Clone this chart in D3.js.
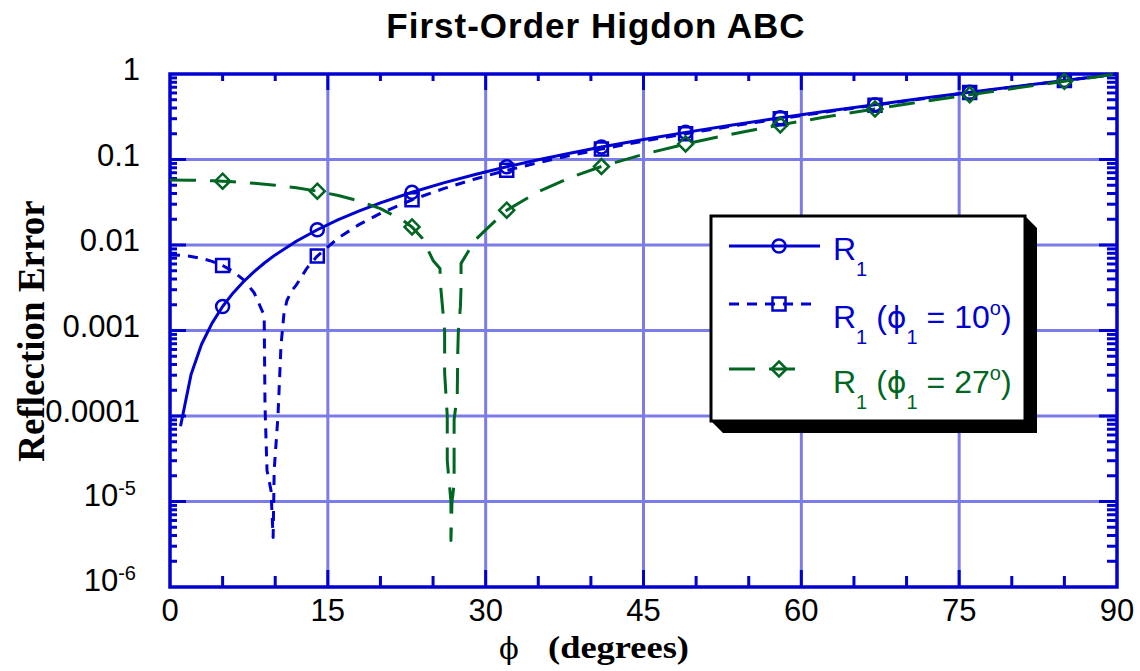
<!DOCTYPE html>
<html><head><meta charset="utf-8">
<script src="https://cdn.jsdelivr.net/npm/d3@7"></script>
<style>html,body{margin:0;padding:0;background:#fff;} svg{display:block;} text{white-space:pre;}</style>
</head><body>
<svg id="chart" width="1140" height="671"></svg>
<script>
// ---------- data ----------
const xTicks = [0, 15, 30, 45, 60, 75, 90];
const xMinorTicks = [5, 10, 20, 25, 35, 40, 50, 55, 65, 70, 80, 85];
const yTicks = [1, 0.1, 0.01, 0.001, 0.0001, 1e-5, 1e-6];
const yTickBase = ["1", "0.1", "0.01", "0.001", "0.0001", "10", "10"];
const yTickExp  = ["", "", "", "", "", "-5", "-6"];
const markerPhi = [5, 14, 23, 32, 41, 49, 58, 67, 76, 85];

// R1 (phi1 = 0)
const phiR1 = [1,2,3,4,5,6,7,8,9,10,12,14,16,18,20,23,26,29,32,35,38,41,45,49,53,58,62,67,71,76,80,85,89,90];
const valR1 = [7.6e-5,3.05e-4,6.9e-4,1.22e-3,1.91e-3,2.75e-3,3.74e-3,4.89e-3,6.2e-3,7.66e-3,0.01105,0.01508,0.01975,0.02508,0.03109,0.04139,0.0533,0.06688,0.08222,0.09941,0.11856,0.13979,0.17157,0.20769,0.24858,0.30726,0.36104,0.4381,0.50879,0.61041,0.70409,0.83966,0.9657,1];

// R1 (phi1 = 10 deg)
const phiR10 = [0,1,2,3,4,5,6,7,8,8.95,9.03,9.22,9.6,9.8,9.85,9.9,10.26,10.55,10.83,11.12,11.6,12,13,14,16,18,20,23,26,29,32,35,38,41,45,49,53,58,62,67,71,76,80,85,90];
const valR10 = [0.00765,0.00758,0.00735,0.00697,0.00644,0.00575,0.00491,0.00391,0.00276,0.0015,1.3e-4,2.3e-5,1.35e-5,3.8e-6,9e-6,2.3e-5,1.0e-4,6.7e-4,1.58e-3,2.26e-3,2.95e-3,3.39e-3,5.33e-3,7.42e-3,0.0121,0.01743,0.02344,0.03375,0.04566,0.05926,0.07462,0.09183,0.1110,0.13228,0.16413,0.20035,0.24139,0.30031,0.35436,0.43189,0.5031,0.60558,0.70021,0.83739,1];

// R1 (phi1 = 27 deg)
const phiR27 = [0,2,4,5,6,8,10,12,14,16,18,20,22,23,24,25,25.66,25.7,26.1,26.1,26.35,26.35,26.7,26.7,26.8,27.0,27.0,27.3,27.35,27.4,27.6,27.66,27.66,29,30,32,35,38,41,45,49,53,58,62,67,71,76,80,85,90];
const valR27 = [0.05764,0.05733,0.05642,0.05574,0.0549,0.05276,0.05001,0.04662,0.0426,0.03793,0.0326,0.02659,0.0199,0.01628,0.0119,0.0066,0.0053,0.0035,0.001,3.2e-4,1e-4,3e-5,1e-5,3.5e-6,1e-5,1.6e-5,9e-5,1.8e-4,5.6e-4,9.5e-4,1.9e-3,3.2e-3,6.1e-3,0.0114,0.015,0.0255,0.04202,0.06134,0.08282,0.1151,0.15187,0.19372,0.25412,0.30985,0.39031,0.46478,0.57293,0.67379,0.8218,1];

const seriesNames = ["R1", "R1 (phi1 = 10)", "R1 (phi1 = 27)"];

// ---------- layout / style ----------
const BLUE = "#0000d0", GREEN = "#006622", GRID = "#7c7ce8";
const L = 170, R = 1117, T = 74, B = 587;
const svg = d3.select("#chart");
const x = d3.scaleLinear().domain([0, 90]).range([L, R]);
const y = d3.scaleLog().domain([1e-6, 1]).range([B, T]);

// grid
const gGrid = svg.append("g");
gGrid.selectAll("line.v").data(xTicks.filter(d => d > 0 && d < 90)).join("line")
  .attr("x1", d => x(d)).attr("x2", d => x(d)).attr("y1", T).attr("y2", B)
  .attr("stroke", GRID).attr("stroke-width", 3);
gGrid.selectAll("line.h").data(yTicks.filter(d => d > 1e-6 && d < 1)).join("line")
  .attr("y1", d => y(d)).attr("y2", d => y(d)).attr("x1", L).attr("x2", R)
  .attr("stroke", GRID).attr("stroke-width", 3);

// ticks
const gT = svg.append("g").attr("stroke", BLUE).attr("stroke-width", 3);
xTicks.filter(d => d > 0 && d < 90).forEach(d => {
  gT.append("line").attr("x1", x(d)).attr("x2", x(d)).attr("y1", B).attr("y2", B - 17);
  gT.append("line").attr("x1", x(d)).attr("x2", x(d)).attr("y1", T).attr("y2", T + 16);
});
xMinorTicks.forEach(d => {
  gT.append("line").attr("x1", x(d)).attr("x2", x(d)).attr("y1", B).attr("y2", B - 11);
  gT.append("line").attr("x1", x(d)).attr("x2", x(d)).attr("y1", T).attr("y2", T + 7);
});
const yMinor = [];
for (let e = -6; e < 0; e++) for (let m = 2; m <= 9; m++) yMinor.push(m * Math.pow(10, e));
yTicks.filter(d => d > 1e-6 && d < 1).forEach(d => {
  gT.append("line").attr("y1", y(d)).attr("y2", y(d)).attr("x1", L).attr("x2", L + 16);
  gT.append("line").attr("y1", y(d)).attr("y2", y(d)).attr("x1", R).attr("x2", R - 18);
});
yMinor.forEach(d => {
  gT.append("line").attr("y1", y(d)).attr("y2", y(d)).attr("x1", L).attr("x2", L + 7);
  gT.append("line").attr("y1", y(d)).attr("y2", y(d)).attr("x1", R).attr("x2", R - 10);
});

// frame
svg.append("rect").attr("x", L).attr("y", T).attr("width", R - L).attr("height", B - T)
  .attr("fill", "none").attr("stroke", BLUE).attr("stroke-width", 3.5);

// tick labels
const fontSans = "'Liberation Sans', Arial, sans-serif";
svg.append("g").selectAll("text").data(xTicks).join("text")
  .attr("x", d => x(d)).attr("y", 621).attr("text-anchor", "middle")
  .attr("font-family", fontSans).attr("font-size", 31).attr("fill", "#000")
  .text(d => d);
yTicks.forEach((d, i) => {
  const t = svg.append("text").attr("text-anchor", "end")
    .attr("font-family", fontSans).attr("font-size", 31).attr("fill", "#000");
  if (yTickExp[i]) {
    t.attr("x", 136).attr("y", y(d) + 4);
    t.append("tspan").text(yTickBase[i]);
    t.append("tspan").attr("font-size", 20).attr("dy", -11).text(yTickExp[i]);
  } else {
    t.attr("x", 140).attr("y", y(d) + 6).text(yTickBase[i]);
  }
});

// series
const clip = svg.append("clipPath").attr("id", "pclip").append("rect")
  .attr("x", L - 2).attr("y", T - 2).attr("width", R - L + 4).attr("height", B - T + 4);
const line = d3.line().x(d => x(d[0])).y(d => y(d[1]));
const series = [
  { phi: phiR1, val: valR1, color: BLUE, dash: null, marker: "circle" },
  { phi: phiR10, val: valR10, color: BLUE, dash: "10,8", marker: "square" },
  { phi: phiR27, val: valR27, color: GREEN, dash: "26,14", marker: "diamond" }
];
function markerPath(kind) {
  if (kind === "circle") return d3.symbol().type(d3.symbolCircle).size(Math.PI * 6.5 * 6.5)();
  if (kind === "square") return "M-6.5,-6.5H6.5V6.5H-6.5Z";
  return "M0,-7.5L7.5,0L0,7.5L-7.5,0Z";
}
const gS = svg.append("g").attr("clip-path", "url(#pclip)");
series.forEach(s => {
  const pts = s.phi.map((p, i) => [p, s.val[i]]);
  gS.append("path").datum(pts).attr("d", line).attr("fill", "none")
    .attr("stroke", s.color).attr("stroke-width", 3)
    .attr("stroke-dasharray", s.dash).attr("stroke-linejoin", "round");
});
series.forEach(s => {
  const mk = markerPhi.map(p => [p, s.val[s.phi.indexOf(p)]]);
  svg.append("g").selectAll("path").data(mk).join("path")
    .attr("transform", d => `translate(${x(d[0])},${y(d[1])})`)
    .attr("d", markerPath(s.marker)).attr("fill", "none")
    .attr("stroke", s.color).attr("stroke-width", 2.5);
});

// title & axis labels
svg.append("text").attr("x", 596).attr("y", 38).attr("text-anchor", "middle")
  .attr("font-family", fontSans).attr("font-weight", "bold").attr("font-size", 35)
  .attr("letter-spacing", 1).text("First-Order Higdon ABC");
svg.append("text").attr("transform", "translate(44,331) rotate(-90)").attr("text-anchor", "middle")
  .attr("font-family", "'Liberation Serif', 'Times New Roman', serif").attr("font-weight", "bold")
  .attr("font-size", 37).text("Reflection Error");
svg.append("text").attr("x", 509).attr("y", 659).attr("text-anchor", "middle")
  .attr("font-family", "'DejaVu Serif', serif").attr("font-size", 29).text("\u03D5");
svg.append("text").attr("x", 548).attr("y", 658)
  .attr("font-family", "'Liberation Serif', 'Times New Roman', serif").attr("font-weight", "bold")
  .attr("font-size", 31).attr("textLength", 141).attr("lengthAdjust", "spacingAndGlyphs")
  .text("(degrees)");

// legend
const lg = svg.append("g");
const LX0 = 711, LY0 = 216, LX1 = 1025, LY1 = 421, SH = 12;
lg.append("path").attr("d", `M${LX1},${LY0}L${LX1 + SH},${LY0 + SH}L${LX1 + SH},${LY1 + SH}L${LX0 + SH},${LY1 + SH}L${LX0},${LY1}Z`)
  .attr("fill", "#000");
lg.append("rect").attr("x", LX0).attr("y", LY0).attr("width", LX1 - LX0).attr("height", LY1 - LY0)
  .attr("fill", "#fff").attr("stroke", "#000").attr("stroke-width", 3);
const legendRows = [
  { ly: 246, by: 260, s: series[0], parts: [["R", "n"], ["1", "sub"]], x1: 729, x2: 820 },
  { ly: 304, by: 328, s: series[1], parts: [["R", "n"], ["1", "sub"], [" (", "n"], ["\u03D5", "phi"], ["1", "sub"], [" = 10", "n"], ["o", "sup"], [")", "n"]], x1: 729, x2: 818 },
  { ly: 369, by: 393, s: series[2], parts: [["R", "n"], ["1", "sub"], [" (", "n"], ["\u03D5", "phi"], ["1", "sub"], [" = 27", "n"], ["o", "sup"], [")", "n"]], x1: 729, x2: 800 }
];
legendRows.forEach(r => {
  lg.append("line").attr("x1", r.x1).attr("x2", r.x2).attr("y1", r.ly).attr("y2", r.ly)
    .attr("stroke", r.s.color).attr("stroke-width", 3).attr("stroke-dasharray", r.s.dash);
  lg.append("path").attr("transform", `translate(779,${r.ly})`).attr("d", markerPath(r.s.marker))
    .attr("fill", "none").attr("stroke", r.s.color).attr("stroke-width", 2.5);
  const t = lg.append("text").attr("x", 833).attr("y", r.by).attr("fill", r.s.color)
    .attr("font-family", fontSans).attr("font-size", 32);
  let cur = 0;
  r.parts.forEach(([txt, kind]) => {
    const shift = kind === "sub" ? 16 : kind === "sup" ? -13 : 0;
    const ts = t.append("tspan").attr("dy", shift - cur).text(txt);
    cur = shift;
    if (kind === "sub" || kind === "sup") ts.attr("font-size", 20);
    if (kind === "phi") ts.attr("font-family", "'DejaVu Sans', sans-serif").attr("font-size", 30);
  });
});
</script>
</body></html>
